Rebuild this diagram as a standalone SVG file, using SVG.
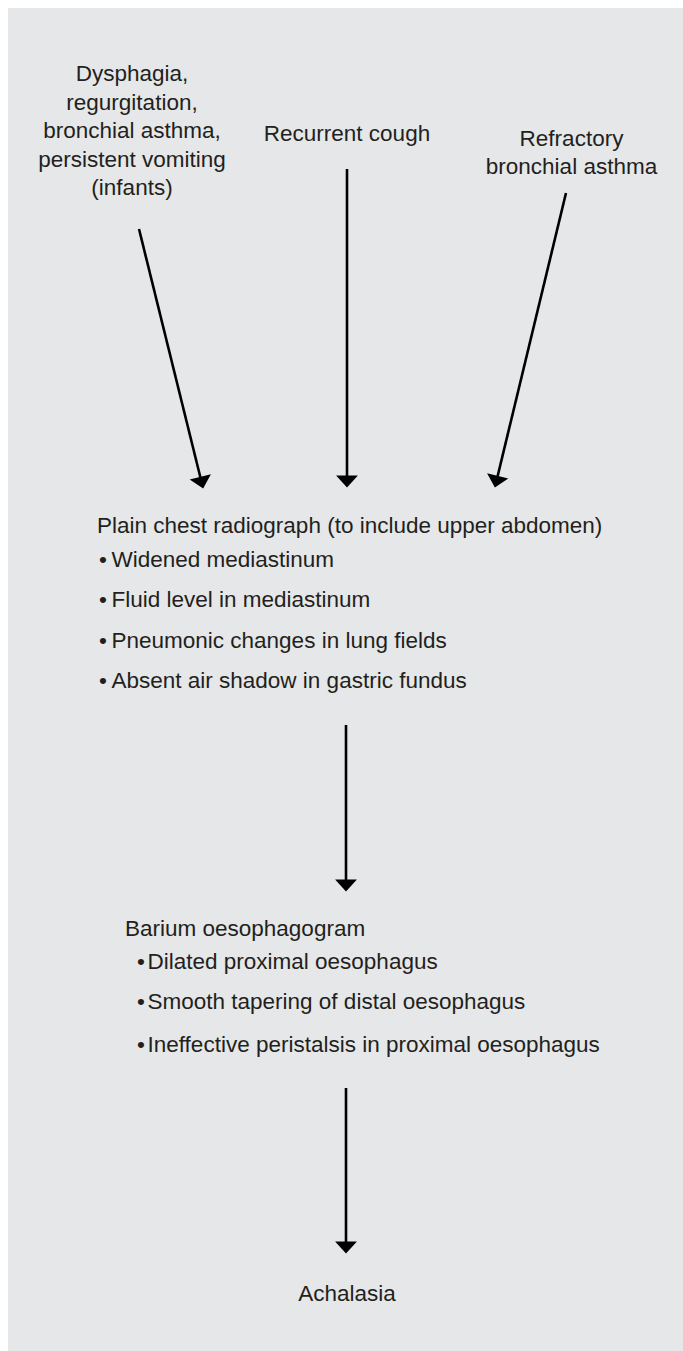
<svg xmlns="http://www.w3.org/2000/svg" width="683" height="1351" viewBox="0 0 683 1351">
  <style>
    text { font-family: "Liberation Sans", Arial, sans-serif; font-size: 22.5px; fill: #231f20; }
    .c { text-anchor: middle; }
    .conn { stroke: #000; stroke-width: 2.6; fill: none; marker-end: url(#ah); }
  </style>
  <defs>
    <marker id="ah" markerUnits="userSpaceOnUse" markerWidth="24" markerHeight="24" viewBox="-1 -11 14 22" refX="5" refY="0" orient="auto">
      <path d="M0,-10 L11,0 L0,10 Z" fill="#000"/>
    </marker>
  </defs>
  <rect x="8" y="8" width="675" height="1343" fill="#e6e7e8"/>

  <g id="node-symptoms-left">
    <text class="c" x="132" y="81">Dysphagia,</text>
    <text class="c" x="132" y="109.5">regurgitation,</text>
    <text class="c" x="132" y="138">bronchial asthma,</text>
    <text class="c" x="132" y="166.5">persistent vomiting</text>
    <text class="c" x="132" y="195">(infants)</text>
  </g>
  <g id="node-recurrent-cough">
    <text class="c" x="347" y="141">Recurrent cough</text>
  </g>
  <g id="node-refractory-asthma">
    <text class="c" x="571.5" y="145.5">Refractory</text>
    <text class="c" x="571.5" y="173.5">bronchial asthma</text>
  </g>
  <g id="node-chest-radiograph">
    <text x="97" y="533">Plain chest radiograph (to include upper abdomen)</text>
    <text x="99" y="567">•</text><text x="111.5" y="567">Widened mediastinum</text>
    <text x="99" y="607">•</text><text x="111.5" y="607">Fluid level in mediastinum</text>
    <text x="99" y="648">•</text><text x="111.5" y="648">Pneumonic changes in lung fields</text>
    <text x="99" y="688">•</text><text x="111.5" y="688">Absent air shadow in gastric fundus</text>
  </g>
  <g id="node-barium">
    <text x="125" y="936">Barium oesophagogram</text>
    <text x="137" y="969">•</text><text x="147.5" y="969">Dilated proximal oesophagus</text>
    <text x="137" y="1009">•</text><text x="147.5" y="1009">Smooth tapering of distal oesophagus</text>
    <text x="137" y="1051.5">•</text><text x="147.5" y="1051.5">Ineffective peristalsis in proximal oesophagus</text>
  </g>
  <g id="node-achalasia">
    <text class="c" x="347" y="1301">Achalasia</text>
  </g>

  <g id="connectors">
    <line class="conn" x1="139" y1="229" x2="201.6" y2="482.2"/>
    <line class="conn" x1="347" y1="169" x2="347" y2="481"/>
    <line class="conn" x1="566" y1="193" x2="496.4" y2="481.2"/>
    <line class="conn" x1="346" y1="725" x2="346" y2="885"/>
    <line class="conn" x1="346" y1="1088" x2="346" y2="1247"/>
  </g>
</svg>
